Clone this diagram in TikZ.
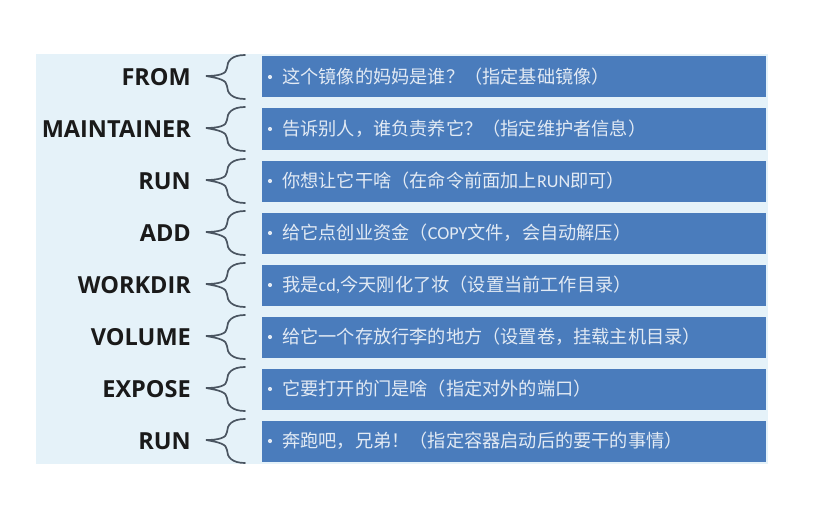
\documentclass[tikz,border=0pt]{standalone}
\usepackage{fontspec}
\setmainfont{Open Sans}
\newfontfamily\cjk{Noto Sans CJK SC}
\newfontfamily\lat{Carlito}
\definecolor{panelbg}{HTML}{E5F2F9}
\definecolor{boxblue}{HTML}{4A7CBC}
\definecolor{boxtext}{HTML}{E2EAF4}
\definecolor{bracecol}{HTML}{4A5561}
\definecolor{labelcol}{HTML}{1A1A1A}
\begin{document}
\begin{tikzpicture}[x=1pt,y=-1pt,
  lbl/.style={anchor=east,font=\bfseries\fontsize{23.5}{26}\selectfont,text=labelcol,inner sep=0pt},
  bar/.style={fill=boxblue,draw=none,minimum width=504pt,minimum height=41pt,anchor=west,inner sep=0pt},
  bartext/.style={anchor=west,text=boxtext,font=\cjk\fontsize{18.2}{20}\selectfont,inner sep=0pt},
  bracestyle/.style={draw=bracecol,line width=1.7pt,line cap=round}]
\useasboundingbox (0,0) rectangle (820,519);
\fill[white] (0,0) rectangle (820,519);
\fill[panelbg] (36,54) rectangle (768,464);
\foreach \i/\lab/\txt in {
  0/FROM/{这个镜像的妈妈是谁？（指定基础镜像）},
  1/MAINTAINER/{告诉别人，谁负责养它？（指定维护者信息）},
  2/RUN/{你想让它干啥（在命令前面加上{\lat RUN}即可）},
  3/ADD/{给它点创业资金（{\lat COPY}文件，会自动解压）},
  4/WORKDIR/{我是{\lat cd,}今天刚化了妆（设置当前工作目录）},
  5/VOLUME/{给它一个存放行李的地方（设置卷，挂载主机目录）},
  6/EXPOSE/{它要打开的门是啥（指定对外的端口）},
  7/RUN/{奔跑吧，兄弟！（指定容器启动后的要干的事情）}}{
  \pgfmathsetmacro{\yc}{77+52*\i}
  \node[bar] (b\i) at (262,\yc) {};
  \node[lbl] (l\i) at (191,\yc) {\lab};
  \fill[boxtext] (270,\yc) circle (2.1pt);
  \node[bartext] (t\i) at (282,\yc) {\txt};
  \coordinate (bt\i) at (245,\yc-22);
  \coordinate (bb\i) at (245,\yc+22);
  \coordinate (tip\i) at (206,\yc-1);
  \draw[bracestyle] (bt\i) .. controls (232,\yc-22) and (227,\yc-16) .. (227,\yc-9)
     .. controls (227,\yc-3) and (218,\yc-1) .. (tip\i)
     .. controls (218,\yc+1) and (227,\yc+3) .. (227,\yc+9)
     .. controls (227,\yc+16) and (232,\yc+22) .. (bb\i);
}
\end{tikzpicture}
\end{document}
